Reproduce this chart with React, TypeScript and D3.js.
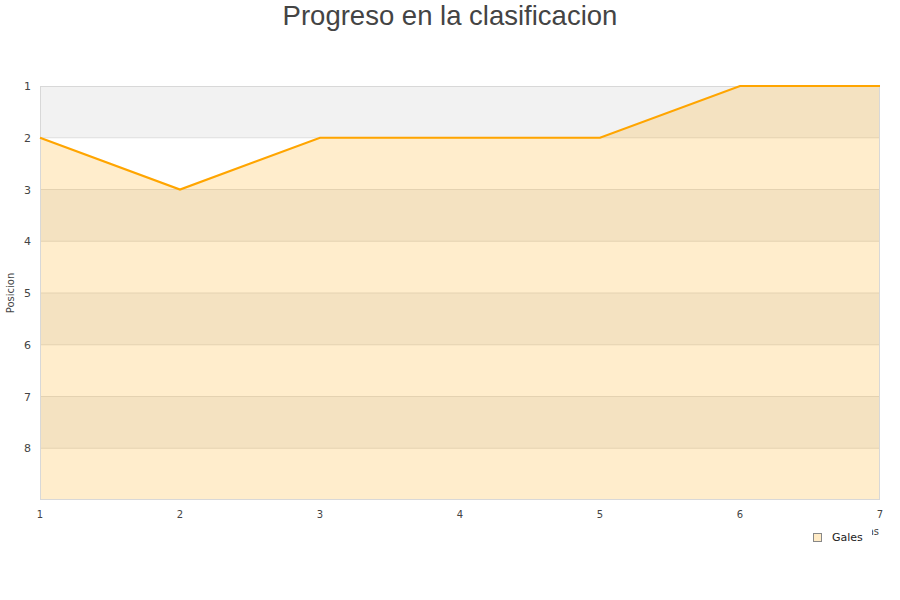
import { useEffect, useRef } from "react";
import * as d3 from "d3";

const jornadas = [1, 2, 3, 4, 5, 6, 7];
const posiciones = [2, 3, 2, 2, 2, 1, 1];
const yTicks = [1, 2, 3, 4, 5, 6, 7, 8];
const serieNombre = "Gales";

export default function App() {
  const svgRef = useRef<SVGSVGElement | null>(null);

  useEffect(() => {
    const svg = d3.select(svgRef.current);
    svg.selectAll("*").remove();

    const width = 900;
    const height = 600;
    const margin = { top: 86, right: 20, bottom: 100, left: 40 };

    const x = d3.scaleLinear().domain([1, 7]).range([margin.left, width - margin.right]);
    const y = d3.scaleLinear().domain([1, 9]).range([margin.top, height - margin.bottom]);

    svg
      .append("text")
      .attr("x", width / 2)
      .attr("y", 25)
      .attr("text-anchor", "middle")
      .attr("font-family", "Liberation Sans, Arial, sans-serif")
      .attr("font-size", 27.5)
      .attr("fill", "#444")
      .text("Progreso en la clasificacion");

    // alternating bands
    const bands = d3.range(1, 9);
    svg
      .append("g")
      .selectAll("rect")
      .data(bands)
      .join("rect")
      .attr("x", margin.left)
      .attr("width", x(7) - x(1))
      .attr("y", (d) => y(d))
      .attr("height", (d) => y(d + 1) - y(d))
      .attr("fill", (d) => (d % 2 === 1 ? "#f2f2f2" : "#ffffff"));

    // grid
    svg
      .append("g")
      .selectAll("line")
      .data(yTicks.slice(1))
      .join("line")
      .attr("x1", margin.left)
      .attr("x2", x(7))
      .attr("y1", (d) => y(d))
      .attr("y2", (d) => y(d))
      .attr("stroke", "#dedede")
      .attr("stroke-width", 1);

    const pts = jornadas.map((j, i) => [j, posiciones[i]] as [number, number]);

    const area = d3
      .area<[number, number]>()
      .x((d) => x(d[0]))
      .y0(y(9))
      .y1((d) => y(d[1]));

    svg
      .append("path")
      .datum(pts)
      .attr("d", area)
      .attr("fill", "#ffa500")
      .attr("fill-opacity", 0.2);

    // plot border
    svg
      .append("rect")
      .attr("x", margin.left + 0.5)
      .attr("y", margin.top + 0.5)
      .attr("width", x(7) - x(1) - 1)
      .attr("height", y(9) - y(1) - 1)
      .attr("fill", "none")
      .attr("stroke", "#d8d8d8");

    const line = d3
      .line<[number, number]>()
      .x((d) => x(d[0]))
      .y((d) => y(d[1]));

    svg
      .append("path")
      .datum(pts)
      .attr("d", line)
      .attr("fill", "none")
      .attr("stroke", "#ffa500")
      .attr("stroke-width", 2.2);

    // y ticks
    svg
      .append("g")
      .selectAll("text")
      .data(yTicks)
      .join("text")
      .attr("x", 31)
      .attr("y", (d) => y(d) + 4)
      .attr("text-anchor", "end")
      .attr("font-family", "DejaVu Sans, sans-serif")
      .attr("font-size", 11)
      .attr("fill", "#444")
      .text((d) => d);

    // x ticks
    svg
      .append("g")
      .selectAll("text")
      .data(jornadas)
      .join("text")
      .attr("x", (d) => x(d))
      .attr("y", 518)
      .attr("text-anchor", "middle")
      .attr("font-family", "DejaVu Sans, sans-serif")
      .attr("font-size", 10)
      .attr("fill", "#444")
      .text((d) => d);

    svg
      .append("text")
      .attr("transform", `translate(14,${(y(1) + y(9)) / 2}) rotate(-90)`)
      .attr("text-anchor", "middle")
      .attr("font-family", "DejaVu Sans, sans-serif")
      .attr("font-size", 10)
      .attr("fill", "#444")
      .text("Posicion");

    svg
      .append("text")
      .attr("x", 879)
      .attr("y", 535)
      .attr("text-anchor", "end")
      .attr("font-family", "DejaVu Sans, sans-serif")
      .attr("font-size", 10)
      .attr("fill", "#444")
      .text("Jornadas");

    // legend
    const lg = svg.append("g");
    lg.append("rect")
      .attr("x", 806)
      .attr("y", 527)
      .attr("width", 66)
      .attr("height", 21)
      .attr("fill", "#fff");
    lg.append("rect")
      .attr("x", 813.5)
      .attr("y", 533.5)
      .attr("width", 8)
      .attr("height", 8)
      .attr("fill", "#ffebc6")
      .attr("stroke", "#888");
    lg.append("text")
      .attr("x", 832)
      .attr("y", 541)
      .attr("font-family", "DejaVu Sans, sans-serif")
      .attr("font-size", 11)
      .attr("fill", "#222")
      .text(serieNombre);
  }, []);

  return (
    <svg
      ref={svgRef}
      width={900}
      height={600}
      style={{ position: "absolute", left: 0, top: 0, background: "#fff" }}
    />
  );
}
